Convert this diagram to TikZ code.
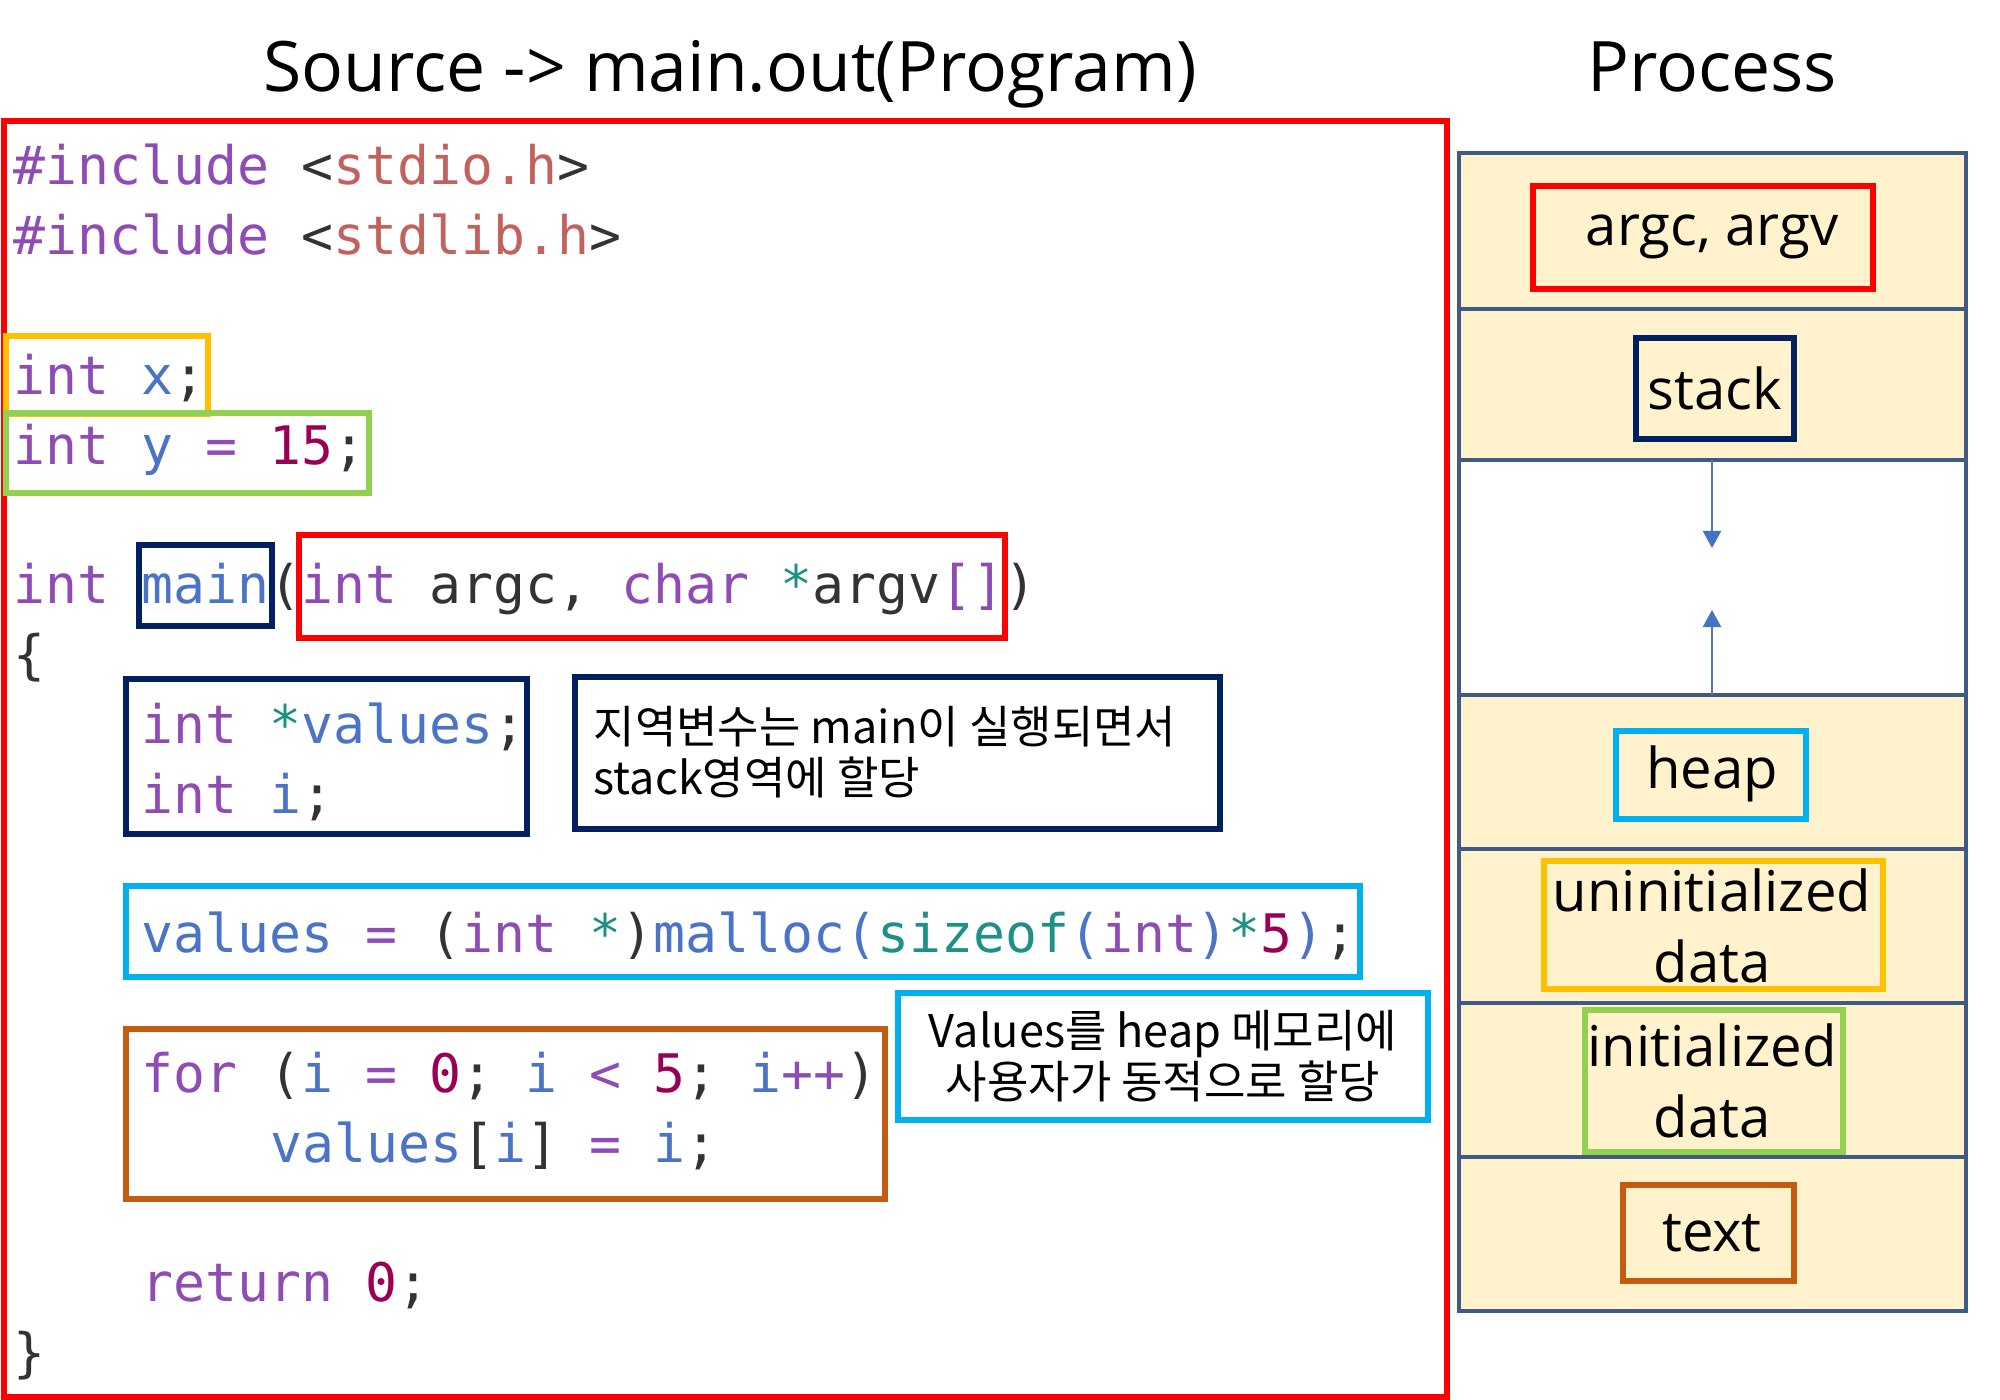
\documentclass[tikz,border=0pt]{standalone}
\usepackage{fontspec}
\setmainfont{Open Sans}
\newfontfamily\codefont{DejaVu Sans Mono}
\newfontfamily\notefont{Noto Sans CJK KR}
\usetikzlibrary{arrows.meta}

\definecolor{kwpurple}{HTML}{8F4CB4}
\definecolor{idblue}{HTML}{4B74C6}
\definecolor{numred}{HTML}{990055}
\definecolor{strred}{HTML}{C2625E}
\definecolor{starteal}{HTML}{1E9085}
\definecolor{codedark}{HTML}{333333}
\definecolor{boxred}{HTML}{FF0000}
\definecolor{boxnavy}{HTML}{002060}
\definecolor{boxcyan}{HTML}{00B0F0}
\definecolor{boxgold}{HTML}{FFC000}
\definecolor{boxgreen}{HTML}{92D050}
\definecolor{boxrust}{HTML}{C55A11}
\definecolor{segcream}{HTML}{FFF2CC}
\definecolor{segline}{HTML}{3F5A85}
\definecolor{arrowblue}{HTML}{4472C4}

\newcommand\ckw{\color{kwpurple}}
\newcommand\cid{\color{idblue}}
\newcommand\cnum{\color{numred}}
\newcommand\cstr{\color{strred}}
\newcommand\cstar{\color{starteal}}

\begin{document}
\begin{tikzpicture}[x=0.01cm,y=-0.01cm,line join=miter,
  every node/.style={inner sep=0pt},
  codeline/.style={anchor=base west,font=\codefont\fontsize{15.1}{18}\selectfont,text=codedark},
  hlbox/.style={draw=#1,line width=1.7pt},
  titletext/.style={font=\fontsize{19.8}{24}\selectfont},
  segtext/.style={font=\fontsize{16}{20}\selectfont,align=center},
  notetext/.style={font=\notefont\fontsize{12.8}{14.3}\selectfont},
  gaparrow/.style={draw=arrowblue!70!gray,line width=0.6pt,-{Triangle[width=0.18cm,length=0.17cm,color=arrowblue]}}]
  \useasboundingbox (0,0) rectangle (2000,1400);
  \def\cw{32.07}
  \def\lh{69.8}
  \def\lx{13}
  \def\ly{185}

  % titles
  \node[titletext,anchor=base] (srctitle) at (730,92) {Source -> main.out(Program)};
  \node[titletext,anchor=base] (proctitle) at (1712,92) {Process};

  % source code
  \draw[hlbox=boxred] (4,121) rectangle (1447,1397);
  \node[codeline] (l0) at (\lx,{\ly}) {{\ckw \#include} <{\cstr stdio.h}>};
  \node[codeline] (l1) at (\lx,{\ly+\lh}) {{\ckw \#include} <{\cstr stdlib.h}>};
  \node[codeline] (l3) at (\lx,{\ly+3*\lh}) {{\ckw int} {\cid x};};
  \node[codeline] (l4) at (\lx,{\ly+4*\lh}) {{\ckw int} {\cid y} {\ckw =} {\cnum 15};};
  \node[codeline] (l6) at (\lx,{\ly+6*\lh}) {{\ckw int} {\cid main}({\ckw int} argc, {\ckw char} {\cstar *}argv{\ckw []})};
  \node[codeline] (l7) at (\lx,{\ly+7*\lh}) {\{};
  \node[codeline] (l8) at ({\lx+4*\cw},{\ly+8*\lh}) {{\ckw int} {\cstar *}{\cid values};};
  \node[codeline] (l9) at ({\lx+4*\cw},{\ly+9*\lh}) {{\ckw int} {\cid i};};
  \node[codeline] (l11) at ({\lx+4*\cw},{\ly+11*\lh}) {{\cid values} {\ckw =} ({\ckw int} {\cstar *}){\cid malloc(}{\cstar sizeof}{\cid (}{\ckw int}{\cid )}{\cstar *}{\cnum 5}{\cid )};};
  \node[codeline] (l13) at ({\lx+4*\cw},{\ly+13*\lh}) {{\ckw for} ({\cid i} {\ckw =} {\cnum 0}; {\cid i} {\ckw <} {\cnum 5}; {\cid i}{\ckw ++})};
  \node[codeline] (l14) at ({\lx+8*\cw},{\ly+14*\lh}) {{\cid values}[{\cid i}] {\ckw =} {\cid i};};
  \node[codeline] (l16) at ({\lx+4*\cw},{\ly+16*\lh}) {{\ckw return} {\cnum 0};};
  \node[codeline] (l17) at (\lx,{\ly+17*\lh}) {\}};

  % highlight boxes
  \draw[hlbox=boxgold] (6,336) rectangle (208,414);
  \draw[hlbox=boxgreen] (6,413) rectangle (369,493);
  \draw[hlbox=boxnavy] (139,545) rectangle (272,626);
  \draw[hlbox=boxred] (299,535) rectangle (1005,638);
  \draw[hlbox=boxnavy] (126,679) rectangle (527,834);
  \draw[hlbox=boxnavy] (575,677) rectangle (1220,829);
  \draw[hlbox=boxcyan] (126,886) rectangle (1360,977);
  \draw[hlbox=boxrust] (126,1029) rectangle (885,1199);
  \draw[hlbox=boxcyan] (898,993) rectangle (1428,1120);
  \node[notetext,anchor=west,align=left] (stacknote) at (593,752) {지역변수는 main이 실행되면서\\stack영역에 할당};
  \node[notetext,align=center] (heapnote) at (1163,1056) {Values를 heap 메모리에\\사용자가 동적으로 할당};

  % process layout
  \fill[segcream] (1459,153) rectangle (1966,1311);
  \fill[white] (1459,460) rectangle (1966,695);
  \foreach \yy in {309,460,695,849,1003,1157}
    \draw[segline,line width=1.1pt] (1459,\yy) -- (1966,\yy);
  \draw[segline,line width=1.1pt] (1459,153) rectangle (1966,1311);

  \draw[hlbox=boxred] (1533,186) rectangle (1873,289);
  \node[segtext] (argseg) at (1712,237) {argc, argv};
  \draw[hlbox=boxnavy] (1636,338) rectangle (1794,439);
  \node[segtext] (stackseg) at (1715,388) {stack};
  \draw[hlbox=boxcyan] (1616,731) rectangle (1806,819);
  \node[segtext] (heapseg) at (1712,774) {heap};
  \draw[hlbox=boxgold] (1544,861) rectangle (1883,989);
  \node[segtext] (bssseg) at (1712,926) {uninitialized\\data};
  \draw[hlbox=boxgreen] (1585,1010) rectangle (1843,1152);
  \node[segtext] (dataseg) at (1712,1081) {initialized\\data};
  \draw[hlbox=boxrust] (1623,1185) rectangle (1794,1281);
  \node[segtext] (textseg) at (1712,1233) {text};

  \coordinate (stackend) at (1712,460);
  \coordinate (stacktip) at (1712,548);
  \coordinate (heapend) at (1712,695);
  \coordinate (heaptip) at (1712,610);
  \draw[gaparrow] (stackend) -- (stacktip);
  \draw[gaparrow] (heapend) -- (heaptip);
\end{tikzpicture}
\end{document}
